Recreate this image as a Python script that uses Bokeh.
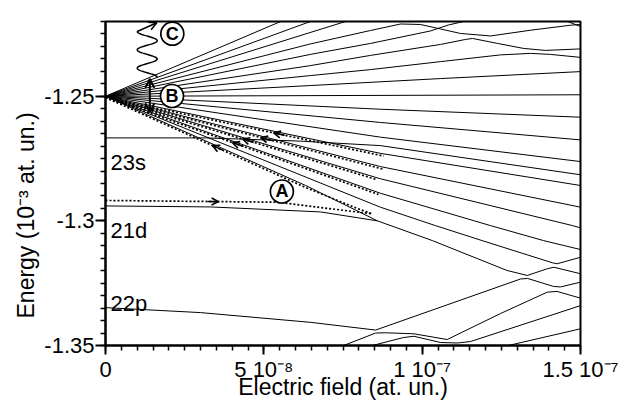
import numpy as np
from bokeh.plotting import figure
from bokeh.models import Range1d, FixedTicker, Label, Arrow, OpenHead, Title
from bokeh.embed import file_html
from bokeh.resources import INLINE

FONT = "Liberation Sans"

# ---- axes (x: field in 1e-8 at. un., y: energy in 1e-3 at. un.) ----
x_ticks = [0, 5, 10, 15]
x_tick_labels = ["0", "5 10\u207b\u2078", "1 10\u207b\u2077", "1.5 10\u207b\u2077"]
y_ticks = [-1.35, -1.3, -1.25]
y_tick_labels = ["-1.35", "-1.3", "-1.25"]
x_title = "Electric field (at. un.)"
y_title = "Energy (10\u207b\u00b3 at. un.)"

# ---- upper Stark fan ----
k8_F = [0.0, 5.53]
k8_E = [-1.2500, -1.2200]
k7_F = [0.0, 6.47]
k7_E = [-1.2500, -1.2200]
k6_F = [0.0, 7.58]
k6_E = [-1.2500, -1.2200]
k5_F = [0.0, 6.47, 8.37, 9.32, 9.95, 10.58, 11.21, 12.16, 13.42, 14.68, 15.0]
k5_E = [-1.2500, -1.2290, -1.2236, -1.2210, -1.2212, -1.2230, -1.2248, -1.2258, -1.2235, -1.2215, -1.2212]
k4_F = [0.0, 6.47, 8.37, 10.26, 10.83, 11.31]
k4_E = [-1.2500, -1.2332, -1.2288, -1.2238, -1.2214, -1.2200]
k3_F = [0.0, 6.47, 8.37, 10.58, 11.37, 11.59, 12.38, 13.20, 13.89, 15.0]
k3_E = [-1.2500, -1.2377, -1.2336, -1.2292, -1.2272, -1.2268, -1.2288, -1.2308, -1.2316, -1.2310]
k2_F = [0.0, 6.47, 8.37, 10.58, 12.47, 13.42, 14.05, 15.0]
k2_E = [-1.2500, -1.2417, -1.2393, -1.2361, -1.2334, -1.2328, -1.2332, -1.2344]
k1_F = [0.0, 6.47, 10.58, 15.0]
k1_E = [-1.2500, -1.2457, -1.2429, -1.2401]
k0_F = [0.0, 15.0]
k0_E = [-1.2500, -1.2494]
n21_F = [14.59, 15.0]
n21_E = [-1.2200, -1.2220]

# ---- lower Stark fan ----
km1_F = [0.0, 8.68, 15.0]
km1_E = [-1.2500, -1.2552, -1.2584]
km2_F = [0.0, 8.68, 15.0]
km2_E = [-1.2500, -1.2605, -1.2675]
km3_F = [0.0, 8.68, 15.0]
km3_E = [-1.2500, -1.2664, -1.2762]
s23_F = [0.0, 3.16, 6.16, 8.68, 15.0]
s23_E = [-1.2667, -1.2667, -1.2680, -1.2698, -1.2815]
km4_F = [0.0, 8.68, 15.0]
km4_E = [-1.2500, -1.2729, -1.2858]
km5_F = [0.0, 8.68, 15.0]
km5_E = [-1.2500, -1.2782, -1.2945]
km6_F = [0.0, 8.68, 14.75, 15.0]
km6_E = [-1.2500, -1.2831, -1.3019, -1.3028]
km7_F = [0.0, 8.68, 12.16, 13.83, 15.0]
km7_E = [-1.2500, -1.2889, -1.3019, -1.3079, -1.3115]
km8_F = [0.0, 8.68, 10.42, 11.89, 14.11, 14.26, 15.0]
km8_E = [-1.2500, -1.2945, -1.3019, -1.3079, -1.3168, -1.3172, -1.3146]
km9_F = [0.0, 6.32, 8.59]
km9_E = [-1.2500, -1.2858, -1.3000]
d21_F = [0.0, 3.32, 6.79, 8.59, 10.32, 12.68, 13.32, 13.95, 14.16, 15.0]
d21_E = [-1.2940, -1.2944, -1.2964, -1.3000, -1.3079, -1.3199, -1.3219, -1.3192, -1.3186, -1.3212]
p22_F = [0.0, 3.0, 6.47, 8.53, 13.11, 13.33, 14.15, 14.37, 15.0]
p22_E = [-1.3348, -1.3368, -1.3407, -1.3438, -1.3233, -1.3231, -1.3263, -1.3265, -1.3246]
b1_F = [7.52, 8.53, 8.84, 9.74, 10.79, 12.47, 13.95, 14.26, 15.0]
b1_E = [-1.3500, -1.3450, -1.3449, -1.3453, -1.3476, -1.3372, -1.3286, -1.3283, -1.3310]
b2_F = [8.43, 9.41, 9.74, 10.58, 11.12, 11.53, 15.0]
b2_E = [-1.3500, -1.3468, -1.3463, -1.3488, -1.3490, -1.3484, -1.3340]
b3_F = [12.72, 15.0]
b3_E = [-1.3500, -1.3433]

# ---- dotted paths ----
dot4_F = [0.0, 8.79]
dot4_E = [-1.2505, -1.2740]
dot5_F = [0.0, 8.78]
dot5_E = [-1.2505, -1.2793]
dot6_F = [0.0, 8.53]
dot6_E = [-1.2505, -1.2833]
dot7_F = [0.0, 8.62]
dot7_E = [-1.2505, -1.2894]
dot9_F = [0.0, 6.32, 7.99, 8.43]
dot9_E = [-1.2505, -1.2866, -1.2952, -1.2972]
dotA_F = [0.0, 5.37, 5.89, 8.43]
dotA_E = [-1.2918, -1.2925, -1.2932, -1.2972]

# chevron positions (field) on the dotted paths
chev_F = [5.31, 4.90, 4.33, 4.01, 3.38]
chevA_F = 3.57

# ---- annotation anchors ----
state_labels = ["23s", "21d", "22p"]
state_label_E = [-1.2766, -1.3039, -1.3332]
state_label_F = 0.16
circ_text = ["A", "B", "C"]
circ_F = [5.57, 2.10, 2.11]
circ_E = [-1.2882, -1.2499, -1.2249]

p = figure(width=624, height=400, x_range=Range1d(0, 15), y_range=Range1d(-1.35, -1.22),
           output_backend="svg", toolbar_location=None,
           min_border_left=105, min_border_right=44, min_border_top=21, min_border_bottom=55)
p.grid.visible = False
p.background_fill_color = "white"
p.border_fill_color = "white"
p.outline_line_color = "black"
p.outline_line_width = 2

p.xaxis.ticker = FixedTicker(ticks=x_ticks, minor_ticks=np.arange(0, 15.01, 0.5).tolist())
p.yaxis.ticker = FixedTicker(ticks=y_ticks,
                             minor_ticks=np.round(np.arange(-1.35, -1.2199, 0.005), 3).tolist())
for ax in (p.xaxis[0], p.yaxis[0]):
    ax.axis_line_width = 2
    ax.axis_line_color = "black"
    ax.major_tick_line_width = 2
    ax.minor_tick_line_width = 1.5
    ax.major_tick_in = 0
    ax.minor_tick_in = 0
    ax.minor_tick_out = 5
    ax.major_label_text_font = FONT
    ax.major_label_text_font_size = "22px"
    ax.major_label_text_color = "black"
p.yaxis.major_tick_out = 10
p.xaxis.major_tick_out = 9
p.yaxis.major_label_standoff = 1
p.yaxis.major_label_overrides = {t: s for t, s in zip(y_ticks, y_tick_labels)}
p.xaxis.major_label_standoff = 2
p.xaxis.major_label_overrides = {t: s for t, s in zip(x_ticks, x_tick_labels)}

p.add_layout(Title(text=x_title, align="center", vertical_align="top", standoff=-21,
                   text_font=FONT, text_font_size="23px", text_font_style="normal",
                   text_color="black"), "below")
p.add_layout(Title(text=y_title, align="left", offset=27, standoff=6,
                   text_font=FONT, text_font_size="23px", text_font_style="normal",
                   text_color="black"), "left")

solid = [(k8_F, k8_E), (k7_F, k7_E), (k6_F, k6_E), (k5_F, k5_E), (k4_F, k4_E),
         (k3_F, k3_E), (k2_F, k2_E), (k1_F, k1_E), (k0_F, k0_E), (n21_F, n21_E),
         (km1_F, km1_E), (km2_F, km2_E), (km3_F, km3_E), (s23_F, s23_E),
         (km4_F, km4_E), (km5_F, km5_E), (km6_F, km6_E), (km7_F, km7_E),
         (km8_F, km8_E), (km9_F, km9_E), (d21_F, d21_E), (p22_F, p22_E),
         (b1_F, b1_E), (b2_F, b2_E), (b3_F, b3_E)]
for F, E in solid:
    p.line(F, E, line_color="black", line_width=1)

dotted = [(dot4_F, dot4_E), (dot5_F, dot5_E), (dot6_F, dot6_E), (dot7_F, dot7_E),
          (dot9_F, dot9_E), (dotA_F, dotA_E)]
for F, E in dotted:
    p.line(F, E, line_color="black", line_width=1.7, line_dash="2 2")

# chevrons pointing back to zero field
for (F, E), cf in zip(dotted[:5], chev_F):
    ys = float(np.interp(cf + 0.35, F, E))
    ye = float(np.interp(cf, F, E))
    p.add_layout(Arrow(end=OpenHead(size=7, line_width=1.6), x_start=cf + 0.35, y_start=ys,
                       x_end=cf, y_end=ye, line_width=1.6))
p.add_layout(Arrow(end=OpenHead(size=7, line_width=1.6), x_start=chevA_F - 0.35,
                   y_start=float(np.interp(chevA_F - 0.35, dotA_F, dotA_E)),
                   x_end=chevA_F, y_end=float(np.interp(chevA_F, dotA_F, dotA_E)), line_width=1.6))

# double arrow (B)
p.add_layout(Arrow(start=OpenHead(size=9, line_width=2), end=OpenHead(size=9, line_width=2),
                   x_start=1.40, y_start=-1.2564, x_end=1.40, y_end=-1.2430, line_width=2))

# wavy photon (C)
wE = np.linspace(-1.2424, -1.2240, 200)
wF = 1.317 + 0.316 * np.cos(5 * np.pi * (wE - -1.2424) / (-1.2240 - -1.2424))
p.line(wF, wE, line_color="black", line_width=1.5)
p.add_layout(Arrow(end=OpenHead(size=8, line_width=1.5), x_start=float(wF[-1]), y_start=float(wE[-1]),
                   x_end=1.62, y_end=-1.2205, line_width=1.5))

# circled letters
p.scatter(circ_F, circ_E, size=23, marker="circle", fill_color="white",
          line_color="black", line_width=1.7)
for t, F, E in zip(circ_text, circ_F, circ_E):
    p.add_layout(Label(x=F, y=E, text=t, text_font=FONT, text_font_size="18px",
                       text_font_style="bold", text_align="center", text_baseline="middle",
                       text_color="black"))

for t, E in zip(state_labels, state_label_E):
    p.add_layout(Label(x=state_label_F, y=E, text=t, text_font=FONT, text_font_size="22px",
                       text_align="left", text_baseline="alphabetic", text_color="black"))

open("out.html", "w").write(file_html(p, INLINE))
